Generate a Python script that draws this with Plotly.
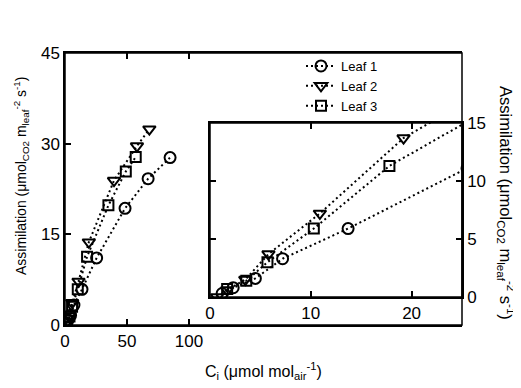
import plotly.graph_objects as go

# Data
leaf1_x = [1.2, 2.3, 4.5, 7.2, 13.7, 25.5, 48.4, 67, 84.7]
leaf1_y = [0.3, 0.8, 1.6, 3.3, 5.9, 11.1, 19.3, 24.2, 27.7]
leaf2_x = [0.7, 1.7, 3.5, 5.8, 10.9, 19.2, 39.5, 58, 68]
leaf2_y = [0.0, 0.6, 1.5, 3.7, 7.2, 13.7, 23.9, 29.6, 32.4]
leaf3_x = [1.7, 3.6, 5.7, 10.3, 17.8, 35, 49, 57]
leaf3_y = [0.7, 1.4, 3.0, 5.9, 11.3, 19.8, 25.4, 27.8]

names = ["Leaf 1", "Leaf 2", "Leaf 3"]
symbols = ["circle-open", "triangle-down-open", "square-open"]
sizes = [11, 11, 10]
series = [(leaf1_x, leaf1_y), (leaf2_x, leaf2_y), (leaf3_x, leaf3_y)]

main_x_ticks = [0, 50, 100]
main_y_ticks = [0, 15, 30, 45]
inset_x_ticks = [0, 10, 20]
inset_y_ticks = [0, 5, 10, 15]

FONT = "Liberation Sans, Arial, sans-serif"

fig = go.Figure()
for (xs, ys), nm, sym, sz in zip(series, names, symbols, sizes):
    for ax, show in (("", True), ("2", False)):
        fig.add_trace(go.Scatter(
            x=xs, y=ys, name=nm, mode="lines+markers",
            xaxis="x" + ax, yaxis="y" + ax, showlegend=show,
            line=dict(color="black", width=2, dash="2px,3px"),
            marker=dict(symbol=sym, size=sz, color="black",
                        line=dict(color="black", width=2)),
        ))

OFF = 8  # page body offset
W, H = 521, 388
L, T = 65 - OFF, 53 - OFF
R, B = W - (462 - OFF), H - (325 - OFF)
pw, ph = 397, 272


def px(sx):
    return (sx - 65) / pw


def py(sy):
    return (325 - sy) / ph


ix0 = px(210)
iy0 = py(297)
iy1 = py(123)

axis_common = dict(showgrid=False, zeroline=False, linecolor="black", linewidth=1.5,
                   ticks="inside", ticklen=6, tickwidth=1.5, tickcolor="black",
                   tickfont=dict(size=17, color="black", family=FONT))

title_y = "Assimilation (μmol<sub>CO2</sub> m<sub>leaf</sub><sup>-2</sup> s<sup>-1</sup>)"
title_x = "C<sub>i</sub> (μmol mol<sub>air</sub><sup>-1</sup>)"

fig.update_layout(
    width=W, height=H,
    margin=dict(l=L, r=R, t=T, b=B, autoexpand=False),
    paper_bgcolor="white", plot_bgcolor="white",
    font=dict(family=FONT, color="black"),
    xaxis=dict(range=[0, 320], tickvals=main_x_ticks, domain=[0, 1],
               showline=True, mirror="ticks", anchor="y", **axis_common),
    yaxis=dict(range=[0, 45], tickvals=main_y_ticks, domain=[0, 1],
               showline=True, anchor="x", **axis_common),
    xaxis2=dict(range=[0, 25], tickvals=inset_x_ticks, domain=[ix0, 1],
                showline=True, mirror="ticks", anchor="y2", **axis_common),
    yaxis2=dict(range=[0, 15], tickvals=inset_y_ticks, domain=[iy0, iy1],
                side="right", showline=True, mirror="ticks", anchor="x2", **axis_common),
    legend=dict(x=px(301), y=py(51), xanchor="left", yanchor="top",
                bgcolor="rgba(0,0,0,0)", font=dict(size=13, family=FONT, color="black"),
                itemwidth=30, tracegroupgap=0),
    shapes=[
        dict(type="rect", xref="paper", yref="paper", x0=ix0, x1=1, y0=iy0, y1=iy1,
             fillcolor="white", line=dict(width=0), layer="below"),
        dict(type="rect", xref="paper", yref="paper", x0=0, x1=1, y0=0, y1=1,
             line=dict(color="black", width=1.5), layer="above"),
        dict(type="rect", xref="paper", yref="paper", x0=ix0, x1=1, y0=iy0, y1=iy1,
             line=dict(color="black", width=1.5), layer="above"),
    ],
    annotations=[
        dict(text=title_y, xref="paper", yref="paper", x=px(21), y=py(176),
             xanchor="center", yanchor="middle",
             textangle=-90, showarrow=False, font=dict(size=14, family=FONT)),
        dict(text=title_y, xref="paper", yref="paper", x=px(506), y=py(203),
             xanchor="center", yanchor="middle",
             textangle=90, showarrow=False, font=dict(size=16.5, family=FONT)),
        dict(text=title_x, xref="paper", yref="paper", x=px(263), y=py(371),
             xanchor="center", yanchor="middle",
             showarrow=False, font=dict(size=16, family=FONT)),
    ],
)

fig.write_html("out.html")
